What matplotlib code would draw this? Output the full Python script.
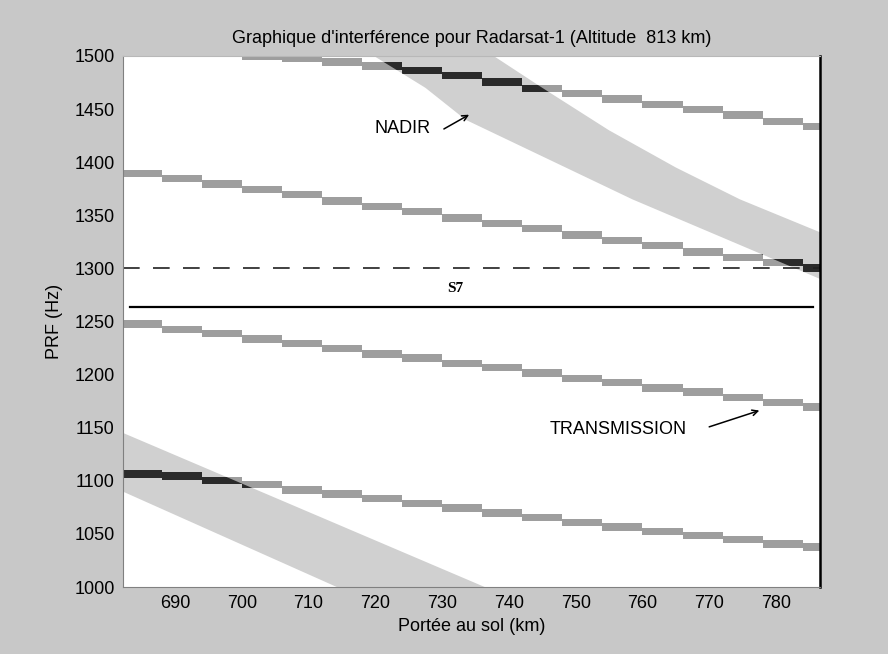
import numpy as np
import matplotlib.pyplot as plt

# axes : portée au sol (km) / PRF (Hz)
x_lim = [682.2, 786.6]
y_lim = [1000, 1500]
x_ticks = [690, 700, 710, 720, 730, 740, 750, 760, 770, 780]
y_ticks = [1000, 1050, 1100, 1150, 1200, 1250, 1300, 1350, 1400, 1450, 1500]

# zones d'interference nadir (contours des polygones)
nadir_a_x = [736.5, 745.0, 755.0, 765.0, 774.6, 786.6, 790.0,
             790.0, 758.5, 733.5, 727.5, 718.5]
nadir_a_prf = [1505, 1470, 1430, 1395, 1365, 1334, 1326,
               1281, 1365, 1440, 1470, 1505]
nadir_b_x = [680.0, 737.5, 715.3, 680.0]
nadir_b_prf = [1151, 997, 997, 1096]

# zones d'interference transmission (en marches)
t1_edges = [700, 706, 712, 718, 724, 730, 736, 742, 748, 754, 760, 766, 772, 778, 784, 786.6]
t1_prf = [1496, 1494, 1491, 1487, 1483, 1478, 1472, 1466, 1461, 1456, 1451, 1446, 1441, 1435, 1430]
step_edges = [682.2, 688, 694, 700, 706, 712, 718, 724, 730, 736, 742, 748, 754, 760, 766, 772, 778, 784, 786.6]
t2_prf = [1386, 1381, 1376, 1371, 1366, 1360, 1355, 1350, 1344, 1339, 1334, 1328, 1323, 1318, 1312, 1307, 1302, 1297]
t3_prf = [1244, 1239, 1235, 1230, 1226, 1221, 1216, 1212, 1207, 1203, 1198, 1193, 1189, 1184, 1180, 1175, 1170, 1166]
t4_prf = [1103, 1101, 1097, 1093, 1088, 1084, 1080, 1075, 1071, 1066, 1062, 1057, 1053, 1049, 1045, 1041, 1037, 1034]
band_height = 7  # Hz

# faisceau S7
prf_dashed = 1300
s7_x = [683.3, 785.5]
s7_prf = [1264, 1264]

plt.rcParams['font.family'] = ['Liberation Sans', 'DejaVu Sans']
fig = plt.figure(figsize=(8.88, 6.54), dpi=100, facecolor='#c8c8c8')
ax = fig.add_axes([0.1385, 0.1024, 0.785, 0.812])
ax.set_facecolor('white')

light = '#d0d0d0'
mid = '#9e9e9e'
dark = '#2a2a2a'

nadir_a = ax.fill(nadir_a_x, nadir_a_prf, color=light, lw=0)[0]
nadir_b = ax.fill(nadir_b_x, nadir_b_prf, color=light, lw=0)[0]

bands = [(t1_edges, t1_prf), (step_edges, t2_prf), (step_edges, t3_prf), (step_edges, t4_prf)]
for edges, prf in bands:
    edges = np.array(edges)
    ax.bar(edges[:-1], band_height, width=np.diff(edges), bottom=prf,
           align='edge', color=mid, lw=0)
    # superposition nadir + transmission en noir
    for nad in [nadir_a, nadir_b]:
        bars = ax.bar(edges[:-1], band_height, width=np.diff(edges), bottom=prf,
                      align='edge', color=dark, lw=0)
        for b in bars:
            b.set_clip_path(nad)

ax.axhline(prf_dashed, color='#202020', lw=1.2, ls=(0, (10, 8)))
ax.plot(s7_x, s7_prf, color='black', lw=1.6)
ax.text(731.9, 1281, 'S7', family='Liberation Serif', fontsize=11, weight='bold',
        ha='center', va='center')

ax.text(719.9, 1432, 'NADIR', fontsize=13, va='center')
ax.annotate('', xy=(734.4, 1446), xytext=(729.9, 1430),
            arrowprops=dict(arrowstyle='->', lw=1.1, color='black'))
ax.text(746.1, 1148, 'TRANSMISSION', fontsize=13, va='center')
ax.annotate('', xy=(777.9, 1167), xytext=(769.6, 1150),
            arrowprops=dict(arrowstyle='->', lw=1.1, color='black'))

ax.set_xlim(x_lim)
ax.set_ylim(y_lim)
ax.set_xticks(x_ticks)
ax.set_yticks(y_ticks)
ax.tick_params(length=0, labelsize=13, pad=6)

ax.spines['left'].set_color('#808080')
ax.spines['bottom'].set_color('#808080')
ax.spines['top'].set_color('#b8b8b8')
ax.spines['right'].set_color('black')
ax.spines['right'].set_linewidth(1.8)

ax.set_title("Graphique d'interférence pour Radarsat-1 (Altitude  813 km)", fontsize=13, pad=9)
ax.set_xlabel('Portée au sol (km)', fontsize=13, labelpad=4)
ax.set_ylabel('PRF (Hz)', fontsize=13, labelpad=8)

plt.savefig('out.png', dpi=100, facecolor=fig.get_facecolor())
